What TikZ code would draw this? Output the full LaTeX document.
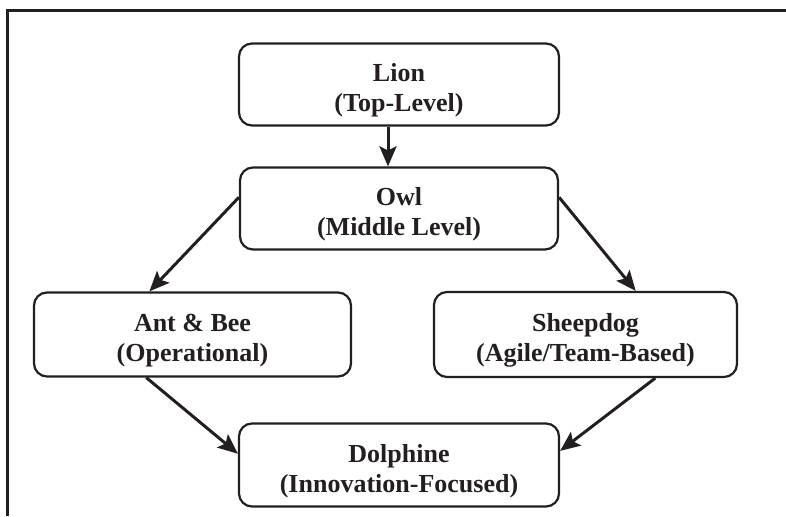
\documentclass[tikz,border=0pt]{standalone}
\usepackage{fontspec}
\setmainfont{Liberation Serif}
\usepackage{tikz}
\usetikzlibrary{positioning}
\usetikzlibrary{arrows.meta}
\definecolor{ink}{RGB}{35,31,32}

\begin{document}
\begin{tikzpicture}[x=1pt, y=1pt,
						levelnode/.style={rectangle, rounded corners=13pt, draw=ink, line width=2.2pt, fill=white, text=ink, align=center, inner sep=0pt, font=\fontsize{26}{30}\selectfont\bfseries},
						flow/.style={draw=ink, line width=3pt, -{Stealth[length=20pt,width=17pt,inset=4pt]}},
						]
						\useasboundingbox (0,0) rectangle (786,516);
						%Frame
						\draw[ink, line width=3pt] (7,0) -- (7,505) -- (786,505);
						%Nodes
						\node[levelnode, minimum width=320, minimum height=82]      (lion) 	at 	(399,431.5)     {\rule{0pt}{30pt}Lion\\(Top-Level)};
						\node[levelnode, minimum width=318, minimum height=82]      (owl) 	at 	(399,307.5)     {\rule{0pt}{30pt}Owl\\(Middle Level)};
						\node[levelnode, minimum width=317, minimum height=84]      (ant) 	at 	(192.5,181.5)   {\rule{0pt}{30pt}Ant \& Bee\\(Operational)};
						\node[levelnode, minimum width=303, minimum height=85]      (sheepdog) 	at 	(585.5,181.5)   {\rule{0pt}{30pt}Sheepdog\\(Agile/Team-Based)};
						\node[levelnode, minimum width=320, minimum height=83]      (dolphine) 	at 	(399,51)        {\rule{0pt}{30pt}Dolphine\\(Innovation-Focused)};
						
						%Connectors
						\draw[flow] ([xshift=-11pt]lion.south) --  ([xshift=-11pt]owl.north);
						\draw[flow] (owl.176) --  (ant.135);
						\draw[flow] (owl.4) --  (sheepdog.41);
						\draw[flow] (ant.223) --  (dolphine.176);
						\draw[flow] (sheepdog.328) --  (dolphine.5);
					\end{tikzpicture}
\end{document}
